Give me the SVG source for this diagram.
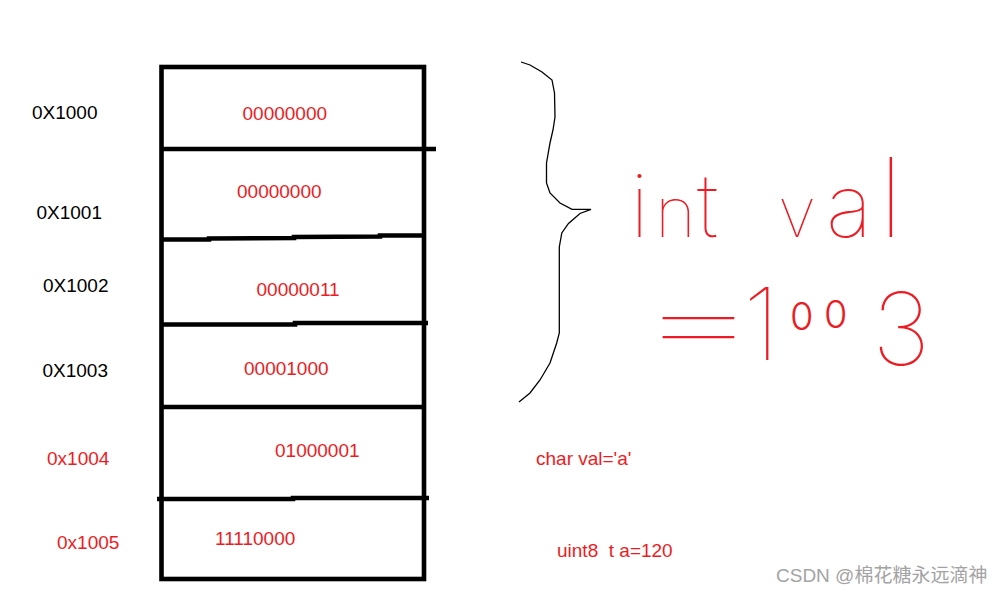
<svg xmlns="http://www.w3.org/2000/svg" width="1001" height="594" viewBox="0 0 1001 594">
<style>
.addr{font-family:"Liberation Sans",Arial,sans-serif;font-size:19px;fill:#000}
.addr.red{fill:#ed1c24}
.val{font-family:"Liberation Sans",Arial,sans-serif;font-size:19px;fill:#ed1c24}
.line{stroke:#000;stroke-width:4.6;fill:none;stroke-linecap:butt}
.hand{font-family:Inter,"Noto Sans","Liberation Sans",sans-serif;font-weight:100;fill:#ed1c24}
.brace{stroke:#000;stroke-width:1.3;fill:none}
.wm{font-family:"Liberation Sans","Noto Sans CJK SC",sans-serif;font-size:19px;fill:#a3a3a3}
</style>
<rect width="1001" height="594" fill="#fff"/>
<g id="memory">
<rect class="line" x="161.5" y="67" width="262.5" height="512"/>
</g>
<g id="connectors">
<polyline class="line" points="161.5,149 436,149"/>
<polyline class="line" points="161.5,239.5 209,239.5 209,238.5 294,238 294,237 380,236.5 380,235.5 424,235.5"/>
<polyline class="line" points="161.5,324.5 295,324.5 295,323 428,323"/>
<polyline class="line" points="161.5,407 424,407"/>
<polyline class="line" points="157,499 293,499 293,498 429,498"/>
<path class="brace" d="M521,62 L530,65 L542,72 L552,80 L554.5,93 L555,117 L553,130 L550,143 L546.5,163 L546.5,183 L550,193 L560,203 L572,209.3 L591,209.3 L580,213.5 L568.5,223.5 L561.8,233 L559.3,247 L559.3,333 L556.7,343 L550,363 L540,380 L530,393 L519,402"/>
</g>
<g id="addresses">
<text class="addr" x="32" y="119">0X1000</text>
<text class="addr" x="36.5" y="219">0X1001</text>
<text class="addr" x="43" y="292">0X1002</text>
<text class="addr" x="42.5" y="376.5">0X1003</text>
<text class="addr red" x="47" y="465">0x1004</text>
<text class="addr red" x="57" y="548.5">0x1005</text>
</g>
<g id="values">
<text class="val" x="242.5" y="120">00000000</text>
<text class="val" x="237" y="197.5">00000000</text>
<text class="val" x="256.5" y="295.5">00000011</text>
<text class="val" x="244" y="374.5">00001000</text>
<text class="val" x="275" y="457">01000001</text>
<text class="val" x="215" y="545">11110000</text>
</g>
<g id="int-val">
<text class="hand" y="237" font-size="88"><tspan x="630">i</tspan><tspan x="655" font-size="70">n</tspan><tspan x="697">t</tspan><tspan> </tspan><tspan x="778" font-size="70">v</tspan><tspan x="826">a</tspan><tspan x="879" font-size="110">l</tspan></text>
</g>
<g id="equals-1003">
<text class="hand" font-size="100" letter-spacing="-30" transform="translate(631,356) scale(2.12,1)" x="0" y="0">=</text>
<text class="hand"><tspan x="743" y="360" font-size="100">1</tspan><tspan x="790" y="330" font-size="38" font-weight="300">0</tspan><tspan x="824" y="328" font-size="38" font-weight="300">0</tspan><tspan x="872" y="365" font-size="100">3</tspan></text>
</g>
<g id="char-val">
<text class="val" x="536" y="465">char val='a'</text>
</g>
<g id="uint8">
<text class="val" x="557" y="556.5" xml:space="preserve">uint8  t a=120</text>
</g>
<text class="wm" x="776" y="582">CSDN @棉花糖永远滴神</text>
</svg>
